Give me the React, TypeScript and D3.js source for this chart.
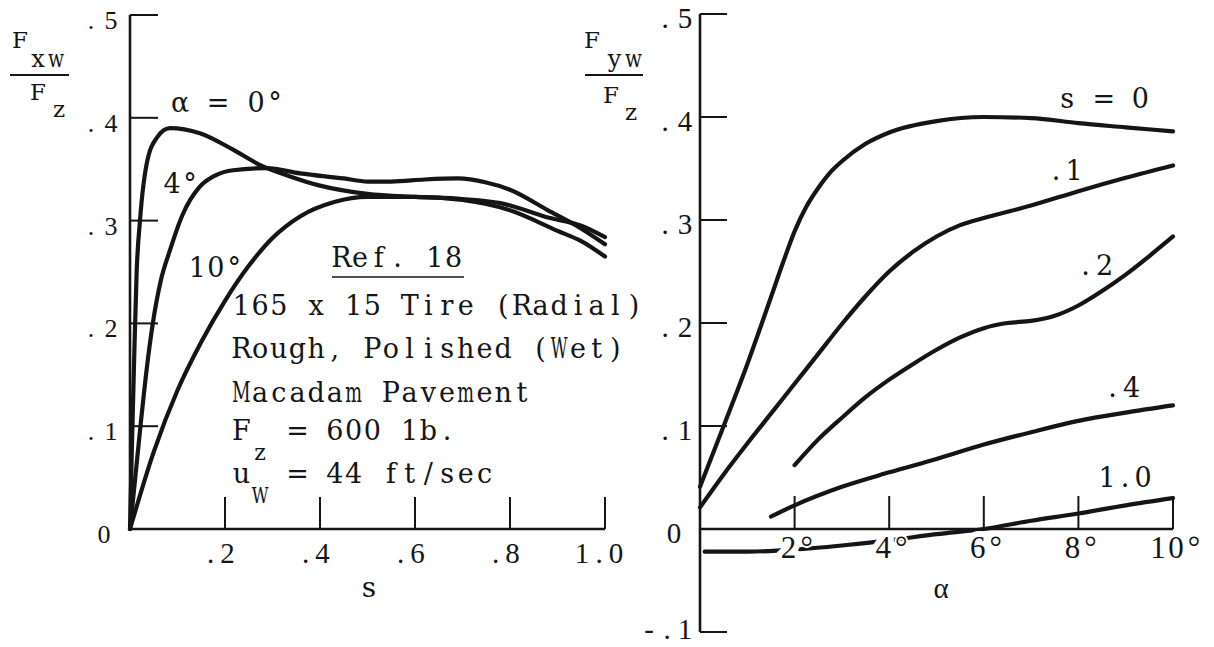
import React from 'react';
import * as d3 from 'd3';

const W = 1214;
const H = 647;

// ---- Left panel: F_xw / F_z against longitudinal slip s ----
const slipTicks = [0.2, 0.4, 0.6, 0.8, 1.0];
const slipTickLabels = ['.2', '.4', '.6', '.8', '1.0'];
const fxTicks = [0.1, 0.2, 0.3, 0.4, 0.5];
const fxTickLabels = ['.1', '.2', '.3', '.4', '.5'];

const slipAlpha0 = [0, 0.004, 0.009, 0.014, 0.021, 0.035, 0.057, 0.084, 0.147, 0.217, 0.274, 0.337, 0.4, 0.5, 0.6, 0.7, 0.78, 0.88, 0.95, 1.0];
const fxAlpha0 = [0, 0.08, 0.17, 0.25, 0.3, 0.355, 0.381, 0.39, 0.385, 0.369, 0.354, 0.343, 0.334, 0.326, 0.323, 0.321, 0.317, 0.303, 0.295, 0.284];

const slipAlpha4 = [0, 0.01, 0.022, 0.035, 0.048, 0.065, 0.084, 0.11, 0.147, 0.18, 0.217, 0.288, 0.358, 0.45, 0.5, 0.55, 0.62, 0.69, 0.75, 0.8, 0.88, 0.94, 1.0];
const fxAlpha4 = [0, 0.045, 0.1, 0.155, 0.2, 0.242, 0.271, 0.305, 0.333, 0.344, 0.349, 0.351, 0.346, 0.341, 0.338, 0.338, 0.34, 0.341, 0.337, 0.33, 0.31, 0.295, 0.277];

const slipAlpha10 = [0, 0.05, 0.1, 0.15, 0.2, 0.25, 0.3, 0.358, 0.43, 0.5, 0.6, 0.7, 0.8, 0.9, 0.95, 1.0];
const fxAlpha10 = [0, 0.075, 0.135, 0.182, 0.222, 0.256, 0.283, 0.304, 0.318, 0.323, 0.323, 0.32, 0.31, 0.29, 0.28, 0.265];

const alphaCurveLabels = ['\u03b1 = 0\u00b0', '4\u00b0', '10\u00b0'];

const noteTitle = 'Ref. 18';
const noteLines = ['165 x 15 Tire (Radial)', 'Rough, Polished (Wet)', 'Macadam Pavement', 'F  = 600 1b.', 'u  = 44 ft/sec'];
const noteSubscripts = ['', '', '', 'z', 'W'];

// ---- Right panel: F_yw / F_z against slip angle alpha ----
const alphaTicks = [2, 4, 6, 8, 10];
const alphaTickLabels = ['2', '4', '6', '8', '10'];
const fyTicks = [-0.1, 0.1, 0.2, 0.3, 0.4, 0.5];
const fyTickLabels = ['-.1', '.1', '.2', '.3', '.4', '.5'];

const alphaS0 = [0, 0.5, 1, 1.5, 1.75, 2, 2.25, 2.5, 2.75, 3, 3.5, 4, 5, 6, 7, 8, 9, 10];
const fyS0 = [0.041, 0.1, 0.16, 0.225, 0.258, 0.289, 0.313, 0.331, 0.346, 0.357, 0.374, 0.385, 0.396, 0.4, 0.399, 0.394, 0.39, 0.386];

const alphaS01 = [0, 0.5, 1, 1.5, 2, 2.5, 3, 3.5, 4, 4.5, 5, 5.5, 6, 7, 8, 9, 10];
const fyS01 = [0.021, 0.053, 0.083, 0.112, 0.141, 0.17, 0.199, 0.226, 0.25, 0.269, 0.284, 0.295, 0.302, 0.314, 0.328, 0.341, 0.353];

const alphaS02 = [2, 2.5, 3, 3.5, 4, 4.5, 5, 5.5, 6, 6.5, 7, 7.5, 8, 8.5, 9, 9.5, 10];
const fyS02 = [0.062, 0.087, 0.108, 0.128, 0.145, 0.16, 0.174, 0.186, 0.195, 0.2, 0.202, 0.207, 0.217, 0.231, 0.247, 0.265, 0.284];

const alphaS04 = [1.5, 2, 3, 4, 5, 6, 7, 8, 9, 10];
const fyS04 = [0.012, 0.023, 0.041, 0.055, 0.068, 0.082, 0.094, 0.105, 0.113, 0.12];

const alphaS10 = [0.1, 1, 2, 3, 4, 5, 6, 7, 8, 9, 10];
const fyS10 = [-0.022, -0.022, -0.02, -0.016, -0.011, -0.005, 0, 0.008, 0.015, 0.023, 0.03];

const slipCurveLabels = ['s = 0', '.1', '.2', '.4', '1.0'];

const INK = '#151515';
// typed annotations and tick numerals
const TYPE_FONT = 'DejaVu Serif';
const TICK_FONT = 'Liberation Serif';
// approximate advance widths (em) of the widest DejaVu Serif glyphs
const WIDE: Record<string, number> = { m: 0.95, M: 0.92, w: 0.86, W: 1.03 };

type TypedProps = {
  x: number;
  y: number;
  text: string;
  pitch?: number;
  size?: number;
  halo?: number;
  font?: string;
};

// Typewriter-style text: every character sits in its own fixed-width cell.
function Typed({ x, y, text, pitch = 18.7, size = 27, halo = 0, font = TYPE_FONT }: TypedProps) {
  return (
    <g>
      {Array.from(text).map((c, i) => {
        if (c === ' ') return null;
        const cx = x + i * pitch + pitch / 2;
        const extra: any = {};
        if (halo) {
          extra.stroke = '#fff';
          extra.strokeWidth = halo;
          extra.paintOrder = 'stroke';
          extra.strokeLinejoin = 'round';
        }
        let sx = 1;
        if (font === TYPE_FONT && WIDE[c]) {
          sx = Math.min(1, (pitch * 0.9) / (WIDE[c] * size));
        }
        return (
          <text
            key={i}
            x={0}
            y={0}
            transform={`translate(${cx},${y}) scale(${sx},1)`}
            textAnchor="middle"
            fill={INK}
            fontFamily={font}
            fontSize={size}
            {...extra}
          >
            {c}
          </text>
        );
      })}
    </g>
  );
}

function zip(xs: number[], ys: number[]): [number, number][] {
  return xs.map((x, i) => [x, ys[i]] as [number, number]);
}

export default function App() {
  const xL = d3.scaleLinear().domain([0, 1]).range([130, 605]);
  const yL = d3.scaleLinear().domain([0, 0.5]).range([529, 15]);
  const xR = d3.scaleLinear().domain([0, 10]).range([700, 1173]);
  const yR = d3.scaleLinear().domain([-0.1, 0.5]).range([632, 14]);

  const lineL = d3
    .line<[number, number]>()
    .x((d) => xL(d[0]))
    .y((d) => yL(d[1]))
    .curve(d3.curveMonotoneX);
  const lineR = d3
    .line<[number, number]>()
    .x((d) => xR(d[0]))
    .y((d) => yR(d[1]))
    .curve(d3.curveMonotoneX);

  const leftCurves = [
    zip(slipAlpha0, fxAlpha0),
    zip(slipAlpha4, fxAlpha4),
    zip(slipAlpha10, fxAlpha10),
  ];
  const rightCurves = [
    zip(alphaS0, fyS0),
    zip(alphaS01, fyS01),
    zip(alphaS02, fyS02),
    zip(alphaS04, fyS04),
    zip(alphaS10, fyS10),
  ];

  const curveStyle = {
    fill: 'none',
    stroke: INK,
    strokeWidth: 4.2,
    strokeLinecap: 'round' as const,
    strokeLinejoin: 'round' as const,
  };
  const axisStyle = { stroke: INK, strokeWidth: 2.6, fill: 'none' };
  const tickStyle = { stroke: INK, strokeWidth: 2 };

  const x0L = xL(0);
  const y0L = yL(0);
  const x0R = xR(0);
  const y0R = yR(0);

  // positions of the curve labels (left panel) and slip labels (right panel)
  const leftLabelPos = [
    { x: 170.5, y: 112, pitch: 19 },
    { x: 163, y: 193, pitch: 18 },
    { x: 188, y: 277, pitch: 18.5 },
  ];
  const rightLabelPos = [
    { x: 1058, y: 108, pitch: 18.3 },
    { x: 1047, y: 180, pitch: 18 },
    { x: 1076, y: 275, pitch: 19 },
    { x: 1103, y: 397, pitch: 19 },
    { x: 1098, y: 487, pitch: 18 },
  ];
  const noteX = 232;
  const noteBaselines = [315, 358, 402, 440, 483];

  return (
    <svg
      width={W}
      height={H}
      viewBox={`0 0 ${W} ${H}`}
      style={{ position: 'absolute', left: 0, top: 0, display: 'block' }}
    >
      <rect x={0} y={0} width={W} height={H} fill="#fff" />

      {/* ---------- left panel ---------- */}
      <path d={`M${xL(1)},${y0L}H${x0L}V${yL(0.5)}`} {...axisStyle} />
      {fxTicks.map((t) => (
        <line key={'fyt' + t} x1={x0L} x2={x0L + 28} y1={yL(t)} y2={yL(t)} {...tickStyle} />
      ))}
      {slipTicks.map((t) => (
        <line key={'sxt' + t} x1={xL(t)} x2={xL(t)} y1={y0L} y2={y0L - 32} {...tickStyle} />
      ))}
      {fxTickLabels.map((lab, i) => (
        <Typed
          key={'fyl' + i}
          x={x0L - 19 - (lab.length - 0.5) * 20}
          y={yL(fxTicks[i]) + 14}
          text={lab}
          pitch={20}
          size={26}
          font={TICK_FONT}
        />
      ))}
      <Typed x={x0L - 36} y={y0L + 14} text="0" pitch={20} size={26} font={TICK_FONT} />
      {slipTickLabels.map((lab, i) => (
        <Typed
          key={'sxl' + i}
          x={xL(slipTicks[i]) - 6 - (lab.length * 17) / 2}
          y={563}
          text={lab}
          pitch={17}
          size={29}
          font={TICK_FONT}
        />
      ))}
      <Typed x={360} y={597} text="s" pitch={18} size={28} />

      {/* y-axis title F_xw / F_z */}
      <Typed x={11} y={48} text="F" pitch={18} size={23} />
      <Typed x={29} y={67} text="xw" pitch={18} size={24} />
      <line x1={10} x2={69} y1={75} y2={75} stroke={INK} strokeWidth={2} />
      <Typed x={29} y={100} text="F" pitch={18} size={23} />
      <Typed x={50} y={117} text="z" pitch={18} size={23} />

      {leftCurves.map((pts, i) => (
        <path key={'lc' + i} d={lineL(pts) || ''} {...curveStyle} />
      ))}
      {alphaCurveLabels.map((lab, i) => (
        <Typed
          key={'acl' + i}
          x={leftLabelPos[i].x}
          y={leftLabelPos[i].y}
          text={lab}
          pitch={leftLabelPos[i].pitch}
        />
      ))}

      {/* test conditions */}
      <Typed x={332} y={267} text={noteTitle} />
      <line x1={332} x2={464} y1={277} y2={277} stroke={INK} strokeWidth={1.6} />
      {noteLines.map((ln, i) => (
        <g key={'nl' + i}>
          <Typed x={noteX} y={noteBaselines[i]} text={ln} />
          {noteSubscripts[i] && (
            <Typed x={noteX + 18.7} y={noteBaselines[i] + 20} text={noteSubscripts[i]} size={22} />
          )}
        </g>
      ))}

      {/* ---------- right panel ---------- */}
      <path d={`M${xR(10)},${y0R}H${x0R}`} {...axisStyle} />
      <path d={`M${x0R},${yR(-0.1)}V${yR(0.5)}`} {...axisStyle} />
      {fyTicks.map((t) => (
        <line key={'rt' + t} x1={x0R} x2={x0R + 27} y1={yR(t)} y2={yR(t)} {...tickStyle} />
      ))}
      {alphaTicks.map((t) => (
        <line key={'at' + t} x1={xR(t)} x2={xR(t)} y1={y0R} y2={y0R - 33} {...tickStyle} />
      ))}
      {fyTickLabels.map((lab, i) => (
        <Typed
          key={'ryl' + i}
          x={x0R - 15 - (lab.length - 0.5) * (lab.length > 2 ? 18 : 20)}
          y={Math.min(yR(fyTicks[i]) + 14, 639)}
          text={lab}
          pitch={lab.length > 2 ? 18 : 20}
          size={29}
          font={TICK_FONT}
        />
      ))}
      <Typed x={x0R - 36} y={y0R + 14} text="0" pitch={20} size={29} font={TICK_FONT} />

      {/* y-axis title F_yw / F_z */}
      <Typed x={583} y={48} text="F" pitch={18} size={23} />
      <Typed x={605} y={67} text="yw" pitch={19} size={24} />
      <line x1={585} x2={643} y1={75} y2={75} stroke={INK} strokeWidth={2} />
      <Typed x={602} y={103} text="F" pitch={18} size={23} />
      <Typed x={622} y={120} text="z" pitch={18} size={23} />

      {rightCurves.map((pts, i) => (
        <path key={'rc' + i} d={lineR(pts) || ''} {...curveStyle} />
      ))}

      {alphaTickLabels.map((lab, i) => {
        const n = lab.length + 1;
        const left = xR(alphaTicks[i]) + 3 - (n * 18) / 2;
        return (
          <g key={'axl' + i}>
            <Typed x={left} y={558} text={lab} pitch={18} size={31} halo={12} font={TICK_FONT} />
            <Typed
              x={left + lab.length * 18}
              y={558}
              text={'\u00b0'}
              pitch={18}
              size={31}
              halo={4}
              font={TICK_FONT}
            />
          </g>
        );
      })}
      <Typed x={932} y={598} text={'\u03b1'} pitch={18} size={29} font={TICK_FONT} />

      {slipCurveLabels.map((lab, i) => (
        <Typed
          key={'scl' + i}
          x={rightLabelPos[i].x}
          y={rightLabelPos[i].y}
          text={lab}
          pitch={rightLabelPos[i].pitch}
        />
      ))}
    </svg>
  );
}
